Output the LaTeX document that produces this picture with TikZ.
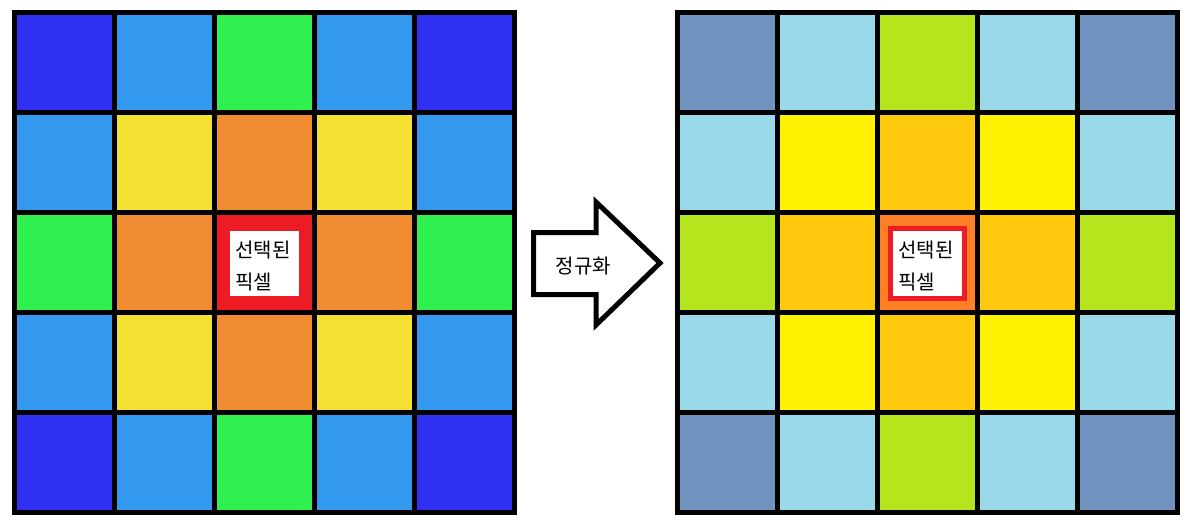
\documentclass[tikz,border=0pt]{standalone}
\usepackage{fontspec}
\newfontfamily\kr{Noto Sans CJK KR}
% colours of the left grid
\definecolor{lBlue}{HTML}{3030F2}
\definecolor{lSky}{HTML}{3399EE}
\definecolor{lGreen}{HTML}{30F050}
\definecolor{lYellow}{HTML}{F3E030}
\definecolor{lOrange}{HTML}{F28C33}
% colours of the right grid
\definecolor{rBlue}{HTML}{7092BE}
\definecolor{rSky}{HTML}{99D9EA}
\definecolor{rGreen}{HTML}{B5E61D}
\definecolor{rYellow}{HTML}{FFF200}
\definecolor{rOrange}{HTML}{FFC90E}
\definecolor{rCenter}{HTML}{FF7F27}
\definecolor{pixRed}{HTML}{ED1C24}
\begin{document}
\begin{tikzpicture}[x=1pt, y=-1pt,
    gridline/.style={line width=5pt, draw=black},
    label/.style={font=\kr\fontsize{20}{32}\selectfont, align=left, inner sep=0pt, anchor=west}]
    \useasboundingbox (0,0) rectangle (1193,525);
    % left grid
    \foreach \c [count=\i from 0] in {lBlue,lSky,lGreen,lSky,lBlue,
                                      lSky,lYellow,lOrange,lYellow,lSky,
                                      lGreen,lOrange,pixRed,lOrange,lGreen,
                                      lSky,lYellow,lOrange,lYellow,lSky,
                                      lBlue,lSky,lGreen,lSky,lBlue}
        \fill [\c] ({14.5+100*mod(\i,5)},{12.5+100*int(\i/5)}) rectangle ++(100,100);
    \fill [white] (230,231) rectangle (299,296);
    \foreach \k in {1,...,4} {
        \draw [gridline] ({14.5+100*\k},12.5) -- ++(0,500);
        \draw [gridline] (14.5,{12.5+100*\k}) -- ++(500,0);
    }
    \draw [gridline] (14.5,12.5) rectangle (514.5,512.5);
    \node [label] (selL) at (235,266) {선택된\\픽셀};
    % arrow
    \draw [gridline] (533.5,232.5) -- (596,232.5) -- (596,202) -- (660,263)
        -- (596,325) -- (596,294.5) -- (533.5,294.5) -- cycle;
    \node [font=\kr\fontsize{20}{22}\selectfont, inner sep=0pt] (norm) at (583.5,266.5) {정규화};
    % right grid
    \foreach \c [count=\i from 0] in {rBlue,rSky,rGreen,rSky,rBlue,
                                      rSky,rYellow,rOrange,rYellow,rSky,
                                      rGreen,rOrange,rCenter,rOrange,rGreen,
                                      rSky,rYellow,rOrange,rYellow,rSky,
                                      rBlue,rSky,rGreen,rSky,rBlue}
        \fill [\c] ({677.5+100*mod(\i,5)},{12.5+100*int(\i/5)}) rectangle ++(100,100);
    \filldraw [draw=pixRed, fill=white, line width=5pt] (890.5,228.5) rectangle (964.5,298.5);
    \foreach \k in {1,...,4} {
        \draw [gridline] ({677.5+100*\k},12.5) -- ++(0,500);
        \draw [gridline] (677.5,{12.5+100*\k}) -- ++(500,0);
    }
    \draw [gridline] (677.5,12.5) rectangle (1177.5,512.5);
    \node [label] (selR) at (898,266) {선택된\\픽셀};
\end{tikzpicture}
\end{document}
